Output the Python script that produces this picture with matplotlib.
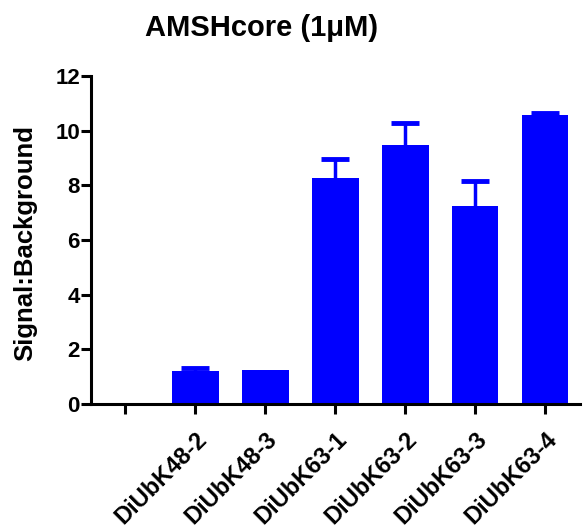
import numpy as np
import matplotlib
matplotlib.use("Agg")
import matplotlib.pyplot as plt

plt.rcParams['font.family'] = ['Liberation Sans', 'DejaVu Sans']
plt.rcParams['font.weight'] = 'bold'

# data
labels = ['', 'DiUbK48-2', 'DiUbK48-3', 'DiUbK63-1', 'DiUbK63-2', 'DiUbK63-3', 'DiUbK63-4']
means = [0.0, 1.21, 1.24, 8.27, 9.48, 7.24, 10.57]
errs = [0.0, 0.1, 0.0, 0.7, 0.8, 0.92, 0.06]

fig = plt.figure(figsize=(5.84, 5.31), dpi=100)
ax = fig.add_axes([0.156, 0.239, 0.837, 0.618])

x = np.arange(len(labels))
ax.bar(x[1:], means[1:], width=0.67, color='#0000ff', zorder=2)
# only upper error bars, skip the ones with no spread
has_err = [i for i in range(len(x)) if errs[i] > 0]
m_err = np.array([means[i] for i in has_err])
eb = ax.errorbar(x[has_err], m_err,
                 yerr=[np.zeros(len(has_err)), [errs[i] for i in has_err]], fmt='none',
                 ecolor='#0000ff', elinewidth=2.5, capsize=10, capthick=3.5, zorder=1)
# hide the lower caps sitting on the bar tops
for cl in eb[1]:
    if np.allclose(cl.get_ydata(), m_err):
        cl.set_visible(False)

ax.set_xlim(-0.49, 6.5)
ax.set_ylim(0, 12)
ax.set_yticks([0, 2, 4, 6, 8, 10, 12])
ax.set_xticks(x)
ax.set_xticklabels(labels, rotation=45, ha='right', rotation_mode='anchor',
                   fontsize=17, fontweight='bold')
ax.tick_params(axis='y', labelsize=16, width=2.2, length=7, pad=1)
ax.tick_params(axis='x', width=2.2, length=7, pad=10)
for s in ['top', 'right']:
    ax.spines[s].set_visible(False)
for s in ['left', 'bottom']:
    ax.spines[s].set_linewidth(2.2)

fig.text(25 / 584, 1 - 243 / 531, 'Signal:Background', rotation=90, fontsize=18.5,
         fontweight='bold', ha='center', va='center')
fig.text(262 / 584, 1 - 28 / 531, 'AMSHcore (1\u03bcM)', fontsize=21,
         fontweight='bold', ha='center', va='center')

fig.savefig('out.png', dpi=100)
